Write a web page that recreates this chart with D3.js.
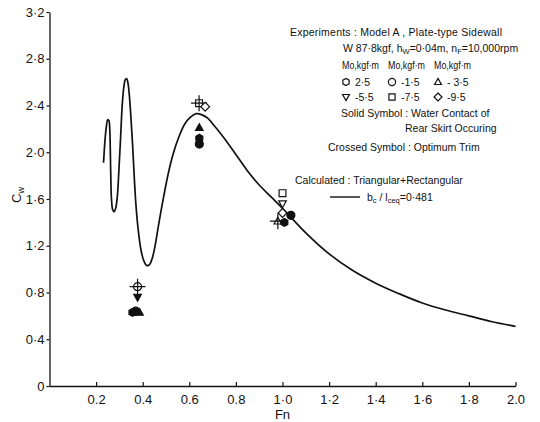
<!DOCTYPE html>
<html>
<head>
<meta charset="utf-8">
<script src="https://cdn.jsdelivr.net/npm/d3@7"></script>
<style>
  html, body { margin: 0; padding: 0; background: #fff; }
  svg { display: block; }
  text { font-family: "Liberation Sans", Arial, sans-serif; fill: #111; }
</style>
</head>
<body>
<svg id="chart" width="540" height="422"></svg>
<script>
// Calculated wave-making resistance coefficient, triangular + rectangular pressure distribution
const calcFn = [0.232, 0.238, 0.244, 0.250, 0.255, 0.259, 0.261, 0.263, 0.266, 0.271, 0.277, 0.284,
  0.291, 0.298, 0.305, 0.312, 0.319, 0.325, 0.331, 0.337, 0.343, 0.350, 0.357, 0.364, 0.371,
  0.380, 0.392, 0.405, 0.418, 0.430, 0.442, 0.455, 0.470, 0.490, 0.510, 0.530, 0.555, 0.580,
  0.605, 0.630, 0.655, 0.680, 0.710, 0.750, 0.800, 0.850, 0.900, 0.950, 1.000, 1.100, 1.200,
  1.300, 1.400, 1.500, 1.600, 1.700, 1.800, 1.900, 2.000];
const calcCw = [1.91, 2.10, 2.22, 2.28, 2.27, 2.18, 2.02, 1.80, 1.60, 1.51, 1.49, 1.52,
  1.62, 1.85, 2.12, 2.40, 2.56, 2.62, 2.63, 2.59, 2.48, 2.28, 2.05, 1.78, 1.55,
  1.35, 1.17, 1.07, 1.03, 1.04, 1.10, 1.22, 1.40, 1.62, 1.82, 1.98, 2.13, 2.24,
  2.30, 2.33, 2.32, 2.29, 2.22, 2.12, 1.98, 1.84, 1.72, 1.62, 1.52, 1.31, 1.13,
  0.99, 0.88, 0.79, 0.71, 0.65, 0.60, 0.55, 0.51];

// Experiments: Model A, trim moment Mo (kgf·m)
const expFn    = [0.378, 0.378, 0.356, 0.370, 0.386,
                  0.642, 0.668, 0.643, 0.643, 0.643,
                  1.000, 1.000, 1.000, 0.980, 1.008, 1.036];
const expCw    = [0.85, 0.76, 0.63, 0.64, 0.63,
                  2.42, 2.39, 2.21, 2.12, 2.07,
                  1.65, 1.56, 1.48, 1.41, 1.40, 1.46];
const expMo    = [-1.5, -5.5, 2.5, -1.5, -3.5,
                  -7.5, -9.5, -3.5, 2.5, -1.5,
                  -7.5, -5.5, -9.5, -3.5, 2.5, -1.5];
const expSolid = [false, true, true, true, true,
                  false, false, true, true, true,
                  false, false, false, false, true, true];
const expCross = [true, false, false, false, false,
                  true, false, false, false, false,
                  false, false, false, true, false, false];

// Axis ticks
const xTicks = [0.2, 0.4, 0.6, 0.8, 1.0, 1.2, 1.4, 1.6, 1.8, 2.0];
const xTickLabels = ["0.2", "0.4", "0.6", "0.8", "1·0", "1·2", "1·4", "1·6", "1·8", "2.0"];
const yTicks = [0, 0.4, 0.8, 1.2, 1.6, 2.0, 2.4, 2.8, 3.2];
const yTickLabels = ["0", "0·4", "0·8", "1·2", "1·6", "2·0", "2·4", "2·8", "3·2"];

// Legend entries: Mo values and their symbol shapes
const legendMo = [2.5, -1.5, -3.5, -5.5, -7.5, -9.5];
const legendMoLabels = ["2·5", "-1·5", "- 3·5", "-5·5", "-7·5", "-9·5"];
const shapeOf = { "2.5": "hexagon", "-1.5": "circle", "-3.5": "triangle",
                  "-5.5": "triangleDown", "-7.5": "square", "-9.5": "diamond" };

const svg = d3.select("#chart");
const x = d3.scaleLinear().domain([0, 2]).range([49.5, 515.5]);
const y = d3.scaleLinear().domain([0, 3.2]).range([386, 12]);

// Axes
const xAxis = d3.axisBottom(x).tickValues(xTicks)
  .tickFormat((d, i) => xTickLabels[i]).tickSizeInner(-4).tickSizeOuter(0).tickPadding(9);
const gx = svg.append("g").attr("transform", `translate(0,${y(0)})`).call(xAxis);
gx.select(".domain").attr("stroke", "#111").attr("stroke-width", 1.3);
gx.selectAll(".tick line").attr("stroke", "#111").attr("stroke-width", 1.2);
gx.selectAll(".tick text").style("font-size", "13px").attr("fill", "#111");

const yAxis = d3.axisLeft(y).tickValues(yTicks)
  .tickFormat((d, i) => yTickLabels[i]).tickSizeInner(3).tickSizeOuter(0).tickPadding(2);
const gy = svg.append("g").attr("transform", `translate(${x(0)},0)`).call(yAxis);
gy.select(".domain").attr("stroke", "#111").attr("stroke-width", 1.3);
gy.selectAll(".tick line").attr("stroke", "#111").attr("stroke-width", 1.2);
gy.selectAll(".tick text").style("font-size", "13px").attr("fill", "#111");

// Axis titles
svg.append("text").attr("x", x(1.0)).attr("y", 419).attr("text-anchor", "middle")
  .style("font-size", "13px").text("Fn");
const cwTitle = svg.append("text").attr("transform", "translate(21,195) rotate(-90)")
  .attr("text-anchor", "middle").style("font-size", "13px");
cwTitle.append("tspan").text("C");
cwTitle.append("tspan").attr("dy", 3).style("font-size", "9px").text("w");

// Calculated curve
const curvePts = calcFn.map((f, i) => [f, calcCw[i]]);
svg.append("path").datum(curvePts)
  .attr("fill", "none").attr("stroke", "#111").attr("stroke-width", 1.7)
  .attr("stroke-linejoin", "round")
  .attr("d", d3.line().x(d => x(d[0])).y(d => y(d[1])).curve(d3.curveCatmullRom.alpha(0.5)));

// Symbol drawing
function symbolPath(shape, r) {
  switch (shape) {
    case "circle": return d3.symbol(d3.symbolCircle, Math.PI * r * r)();
    case "square": return d3.symbol(d3.symbolSquare, (2 * r * 0.85) ** 2)();
    case "diamond": return `M0,${-r * 1.1}L${r * 1.1},0L0,${r * 1.1}L${-r * 1.1},0Z`;
    case "triangle": return `M0,${-r}L${r * 0.95},${r * 0.7}L${-r * 0.95},${r * 0.7}Z`;
    case "triangleDown": return `M0,${r}L${r * 0.95},${-r * 0.7}L${-r * 0.95},${-r * 0.7}Z`;
    case "hexagon": {
      const pts = d3.range(6).map(k => {
        const a = Math.PI / 3 * k + Math.PI / 6;
        return [r * Math.cos(a), r * Math.sin(a)];
      });
      return "M" + pts.map(p => p.join(",")).join("L") + "Z";
    }
  }
}

function drawSymbol(g, cx, cy, shape, solid, crossed, r) {
  const s = g.append("g").attr("transform", `translate(${cx},${cy})`);
  s.append("path").attr("d", symbolPath(shape, r))
    .attr("fill", solid ? "#111" : "#fff").attr("stroke", "#111").attr("stroke-width", 1.2);
  if (crossed) {
    const a = r + 4;
    s.append("path").attr("d", `M${-a},0H${a}M0,${-a}V${a}`)
      .attr("stroke", "#111").attr("stroke-width", 1.2);
  }
}

const gExp = svg.append("g");
expFn.forEach((f, i) => {
  drawSymbol(gExp, x(f), y(expCw[i]), shapeOf[String(expMo[i])], expSolid[i], expCross[i], 4);
});

// Legend
const lg = svg.append("g").style("font-size", "10.5px");
lg.append("text").attr("x", 290).attr("y", 36)
  .attr("textLength", 212).attr("lengthAdjust", "spacing")
  .text("Experiments : Model A ,  Plate-type Sidewall");
const l2 = lg.append("text").attr("x", 343).attr("y", 52);
l2.append("tspan").text("W  87·8kgf,  h");
l2.append("tspan").attr("dy", 2).style("font-size", "7.5px").text("W");
l2.append("tspan").attr("dy", -2).text("=0·04m, n");
l2.append("tspan").attr("dy", 2).style("font-size", "7.5px").text("F");
l2.append("tspan").attr("dy", -2).text("=10,000rpm");

const colX = [342, 388, 434];
colX.forEach(cx => lg.append("text").attr("x", cx).attr("y", 69)
  .attr("textLength", 37).attr("lengthAdjust", "spacingAndGlyphs").text("Mo,kgf·m"));
legendMo.forEach((m, i) => {
  const col = i % 3, row = Math.floor(i / 3);
  const sx = colX[col] + 4, sy = 82 + row * 15;
  drawSymbol(lg, sx, sy, shapeOf[String(m)], false, false, 3.6);
  lg.append("text").attr("x", sx + 9).attr("y", sy + 4).text(legendMoLabels[i]);
});
lg.append("text").attr("x", 341).attr("y", 117).text("Solid  Symbol : Water Contact  of");
lg.append("text").attr("x", 405).attr("y", 132).text("Rear Skirt  Occuring");
lg.append("text").attr("x", 328).attr("y", 151).text("Crossed Symbol : Optimum  Trim");
lg.append("text").attr("x", 295).attr("y", 184).text("Calculated : Triangular+Rectangular");
lg.append("line").attr("x1", 330).attr("x2", 360).attr("y1", 197).attr("y2", 197)
  .attr("stroke", "#111").attr("stroke-width", 1.4);
const l7 = lg.append("text").attr("x", 367).attr("y", 201);
l7.append("tspan").text("b");
l7.append("tspan").attr("dy", 2).style("font-size", "7.5px").text("c");
l7.append("tspan").attr("dy", -2).text(" / l");
l7.append("tspan").attr("dy", 2).style("font-size", "7.5px").text("ceq");
l7.append("tspan").attr("dy", -2).text("=0·481");
</script>
</body>
</html>
